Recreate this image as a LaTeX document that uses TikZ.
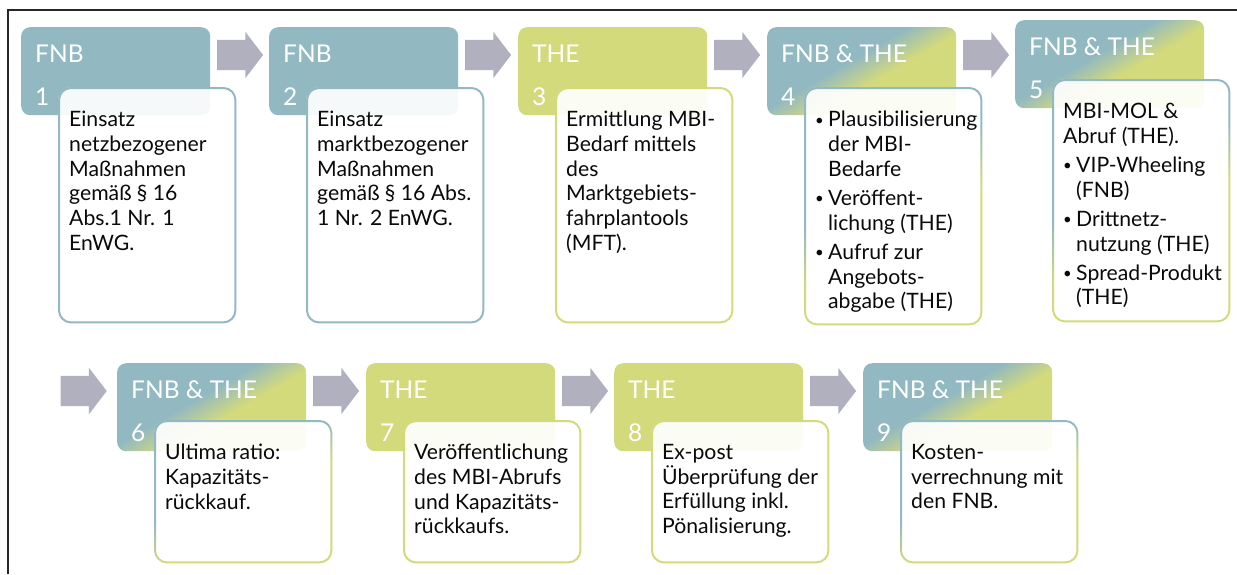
\documentclass[tikz,border=0pt]{standalone}
\usepackage{fontspec}
\setmainfont{Lato}
\usetikzlibrary{shapes,arrows,positioning}

\definecolor{fnbblau}{RGB}{146,185,193}
\definecolor{thegruen}{RGB}{211,218,124}
\definecolor{pfeilgrau}{RGB}{176,176,190}
\definecolor{schrift}{RGB}{10,10,10}
\pgfdeclarehorizontalshading{beide}{100bp}{color(0bp)=(fnbblau); color(44bp)=(fnbblau); color(56bp)=(thegruen); color(100bp)=(thegruen)}

\tikzset{
  kopf/.style={rounded corners=9pt,minimum width=189pt,minimum height=88pt,inner sep=0pt,anchor=north west},
  kopf fnb/.style={fill=fnbblau},
  kopf the/.style={fill=thegruen},
  kopf beide/.style={shade,shading=beide,shading angle=-60},
  kopftext/.style={anchor=base west,inner sep=0pt,text=white,font=\fontsize{24.5}{28}\selectfont},
  textbox/.style={rounded corners=13pt,minimum width=178pt,inner sep=0pt,anchor=north west,fill=white,fill opacity=0.92},
  rand fnb/.style={fill=fnbblau},
  rand the/.style={fill=thegruen},
  rand beide/.style={shade,shading=beide,shading angle=-60},
  inhalt/.style={anchor=north west,inner sep=0pt,align=left,text=schrift,font=\fontsize{21.2}{24.7}\selectfont},
  pfeil/.style={single arrow,fill=pfeilgrau,minimum height=46pt,minimum width=46pt,inner sep=0pt,inner ysep=15pt,single arrow head extend=8pt,single arrow tip angle=105,anchor=west}
}
\newcommand{\pkt}{\makebox[13pt][l]{\raisebox{1.5pt}{\fontsize{15}{15}\selectfont\textbullet}}}
\newcommand{\ein}{\hspace*{13pt}}

% Texte der Schritte
\newcommand{\inhalti}{Einsatz\\netzbezogener\\Maßnahmen\\gemäß § 16\\Abs.1 Nr. 1\\EnWG.}
\newcommand{\inhaltii}{Einsatz\\marktbezogener\\Maßnahmen\\gemäß § 16 Abs.\\1 Nr. 2 EnWG.}
\newcommand{\inhaltiii}{Ermittlung MBI-\\Bedarf mittels\\des\\Marktgebiets-\\fahrplantools\\(MFT).}
\newcommand{\inhaltiv}{\pkt Plausibilisierung\\\ein der MBI-\\\ein Bedarfe\\[4.5pt]\pkt Veröffent-\\\ein lichung (THE)\\[4.5pt]\pkt Aufruf zur\\\ein Angebots-\\\ein abgabe (THE)}
\newcommand{\inhaltv}{MBI-MOL \&\\Abruf (THE).\\[4.5pt]\pkt VIP-Wheeling\\\ein (FNB)\\[4.5pt]\pkt Drittnetz-\\\ein nutzung (THE)\\[4.5pt]\pkt Spread-Produkt\\\ein (THE)}
\newcommand{\inhaltvi}{Ultima ratio:\\Kapazitäts-\\rückkauf.}
\newcommand{\inhaltvii}{Veröffentlichung\\des MBI-Abrufs\\und Kapazitäts-\\rückkaufs.}
\newcommand{\inhaltviii}{Ex-post\\Überprüfung der\\Erfüllung inkl.\\Pönalisierung.}
\newcommand{\inhaltix}{Kosten-\\verrechnung mit\\den FNB.}

\begin{document}
\begin{tikzpicture}[x=1pt,y=-1pt]
\useasboundingbox (0,0) rectangle (1237,574);
\draw[line width=1.6pt,color=black!85] (8,574) -- (8,10) -- (1237,10);

% Schritte 1-9
\foreach \art/\wer/\x/\y/\dy/\h [count=\n] in {fnb/FNB/21/27/60/236, fnb/FNB/269/27/60/236,
    the/THE/518/27/60/236, beide/FNB \& THE/767/27/60/238, beide/FNB \& THE/1015/20/59/243,
    beide/FNB \& THE/117/363/57/143, the/THE/366/363/57/143, the/THE/614/363/57/143,
    beide/FNB \& THE/863/363/57/143}{
  \node[kopf,kopf \art] (K\n) at (\x,\y) {};
  \node[kopftext] (W\n) at ([shift={(14,35)}]K\n.north west) {\wer};
  \node[kopftext] (Z\n) at ([shift={(14,78)}]K\n.north west) {\n};
  \node[textbox,minimum height=\h*1pt] (B\n) at ([shift={(37,\dy)}]K\n.north west) {};
  \path[rand \art,even odd rule,rounded corners=13pt] (B\n.north west) rectangle (B\n.south east)
    [rounded corners=11pt] ([shift={(2,2)}]B\n.north west) rectangle ([shift={(-2,-2)}]B\n.south east);
  \node[inhalt] (I\n) at ([shift={(11,24)}]B\n.north west) {\csname inhalt\romannumeral\n\endcsname};
}

% Pfeile
\foreach \a in {1,2,3,4,6,7,8}
  \node[pfeil] (P\a) at ([shift={(6.5,28)}]K\a.north east) {};
\node[pfeil,anchor=east] (P5) at ([shift={(-10,28)}]K6.north west) {};
\end{tikzpicture}
\end{document}
